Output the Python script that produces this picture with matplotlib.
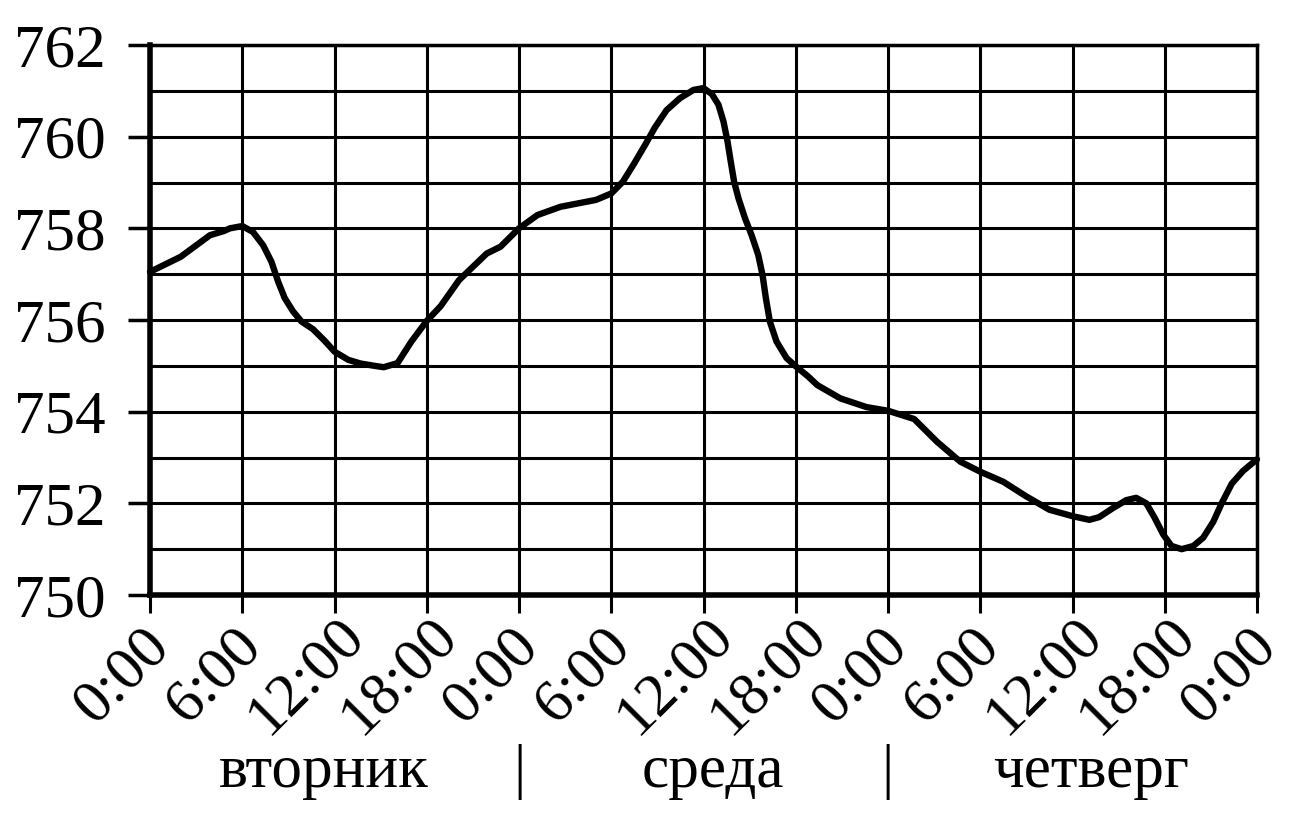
import matplotlib
matplotlib.use("Agg")
import matplotlib.pyplot as plt
import matplotlib.transforms as mtransforms

# hours since Tuesday 0:00 and the pressure
hours = [0, 2, 3.9, 4.8, 5.2, 6, 6.7, 7.36, 7.9, 8.33,
         8.76, 9.3, 9.84, 10.6, 11.35, 12, 12.9, 13.7, 14.6, 15.2,
         16.1, 17, 18, 18.9, 20.1, 21.9, 22.8, 24, 25.2, 26.7,
         27.93, 29, 30, 30.76, 31.5, 32.2, 32.84, 33.6, 34.47, 35.35,
         36, 36.54, 36.97, 37.3, 37.56, 37.77, 37.99, 38.27, 38.7, 39.13,
         39.56, 39.84, 40.06, 40.32, 40.75, 41.4, 42, 42.8, 43.4, 44.9,
         46.6, 48, 49.7, 51.2, 52.7, 54, 55.5, 57, 58.5, 60,
         61.1, 61.74, 62.6, 63.5, 64.14, 64.8, 65.35, 65.9, 66.44, 67.1,
         67.86, 68.5, 69.16, 69.7, 70.36, 71.1, 72]
pressure = [757.05, 757.38, 757.85, 757.94, 758.0, 758.05, 757.92, 757.63, 757.27, 756.84,
            756.48, 756.19, 755.97, 755.8, 755.55, 755.31, 755.13, 755.05, 755.0, 754.97,
            755.06, 755.53, 755.98, 756.3, 756.87, 757.45, 757.6, 758.0, 758.29, 758.47,
            758.55, 758.62, 758.76, 759.02, 759.42, 759.82, 760.2, 760.58, 760.84, 761.02,
            761.06, 760.93, 760.7, 760.33, 759.9, 759.46, 759.02, 758.66, 758.22, 757.85,
            757.42, 756.98, 756.47, 755.96, 755.53, 755.17, 754.99, 754.77, 754.58, 754.29,
            754.1, 754.02, 753.84, 753.34, 752.91, 752.69, 752.47, 752.15, 751.86, 751.72,
            751.64, 751.7, 751.89, 752.07, 752.12, 752.0, 751.68, 751.32, 751.07, 751.0,
            751.07, 751.25, 751.6, 752.0, 752.43, 752.71, 752.96]

tick_hours = list(range(0, 73, 6))
tick_labels = ["0:00", "6:00", "12:00", "18:00"] * 3 + ["0:00"]
y_major = list(range(750, 763, 2))
y_minor = list(range(751, 762, 2))

day_names = ["вторник", "|", "среда", "|", "четверг"]
day_pos = [11.3, 24, 36.6, 48, 61.2]

plt.rcParams['font.family'] = ['Liberation Serif', 'DejaVu Serif']
fs = 44

fig = plt.figure(figsize=(12.96, 8.16), dpi=100)
ax = fig.add_axes([150 / 1296, 1 - 595 / 816, 1107 / 1296, 550 / 816])

ax.set_xlim(0, 72)
ax.set_ylim(750, 762)

ax.set_xticks(tick_hours)
ax.set_xticklabels([])
ax.set_yticks(y_major)
ax.set_yticklabels([str(v) for v in y_major], fontsize=fs)
ax.set_yticks(y_minor, minor=True)

ax.grid(True, which='both', color='black', linewidth=2.2)
ax.set_axisbelow(True)
ax.tick_params(axis='x', direction='out', length=13, width=2.2)
ax.tick_params(axis='y', which='major', direction='out', length=16, width=2.5, pad=16)
ax.tick_params(axis='y', which='minor', length=0)

for side in ['left', 'bottom']:
    ax.spines[side].set_linewidth(4)
for side in ['top', 'right']:
    ax.spines[side].set_linewidth(2.5)

ax.plot(hours, pressure, color='black', linewidth=4.6,
        solid_joinstyle='round', solid_capstyle='round', clip_on=False, zorder=5)

# rotated time labels: centre sits a bit left of and below each tick
xbase = mtransforms.blended_transform_factory(ax.transData, ax.transAxes)
lab_trans = xbase + mtransforms.ScaledTranslation(-28 / 100, -81 / 100, fig.dpi_scale_trans)
for h, lab in zip(tick_hours, tick_labels):
    ax.text(h, 0, lab, transform=lab_trans, rotation=45, ha='center',
            va='center', fontsize=fs, clip_on=False)

trans = mtransforms.blended_transform_factory(ax.transData, fig.transFigure)
for name, pos in zip(day_names, day_pos):
    ax.text(pos, 1 - 787 / 816, name, transform=trans, ha='center',
            va='baseline', fontsize=fs)

fig.savefig("out.png", dpi=100)
